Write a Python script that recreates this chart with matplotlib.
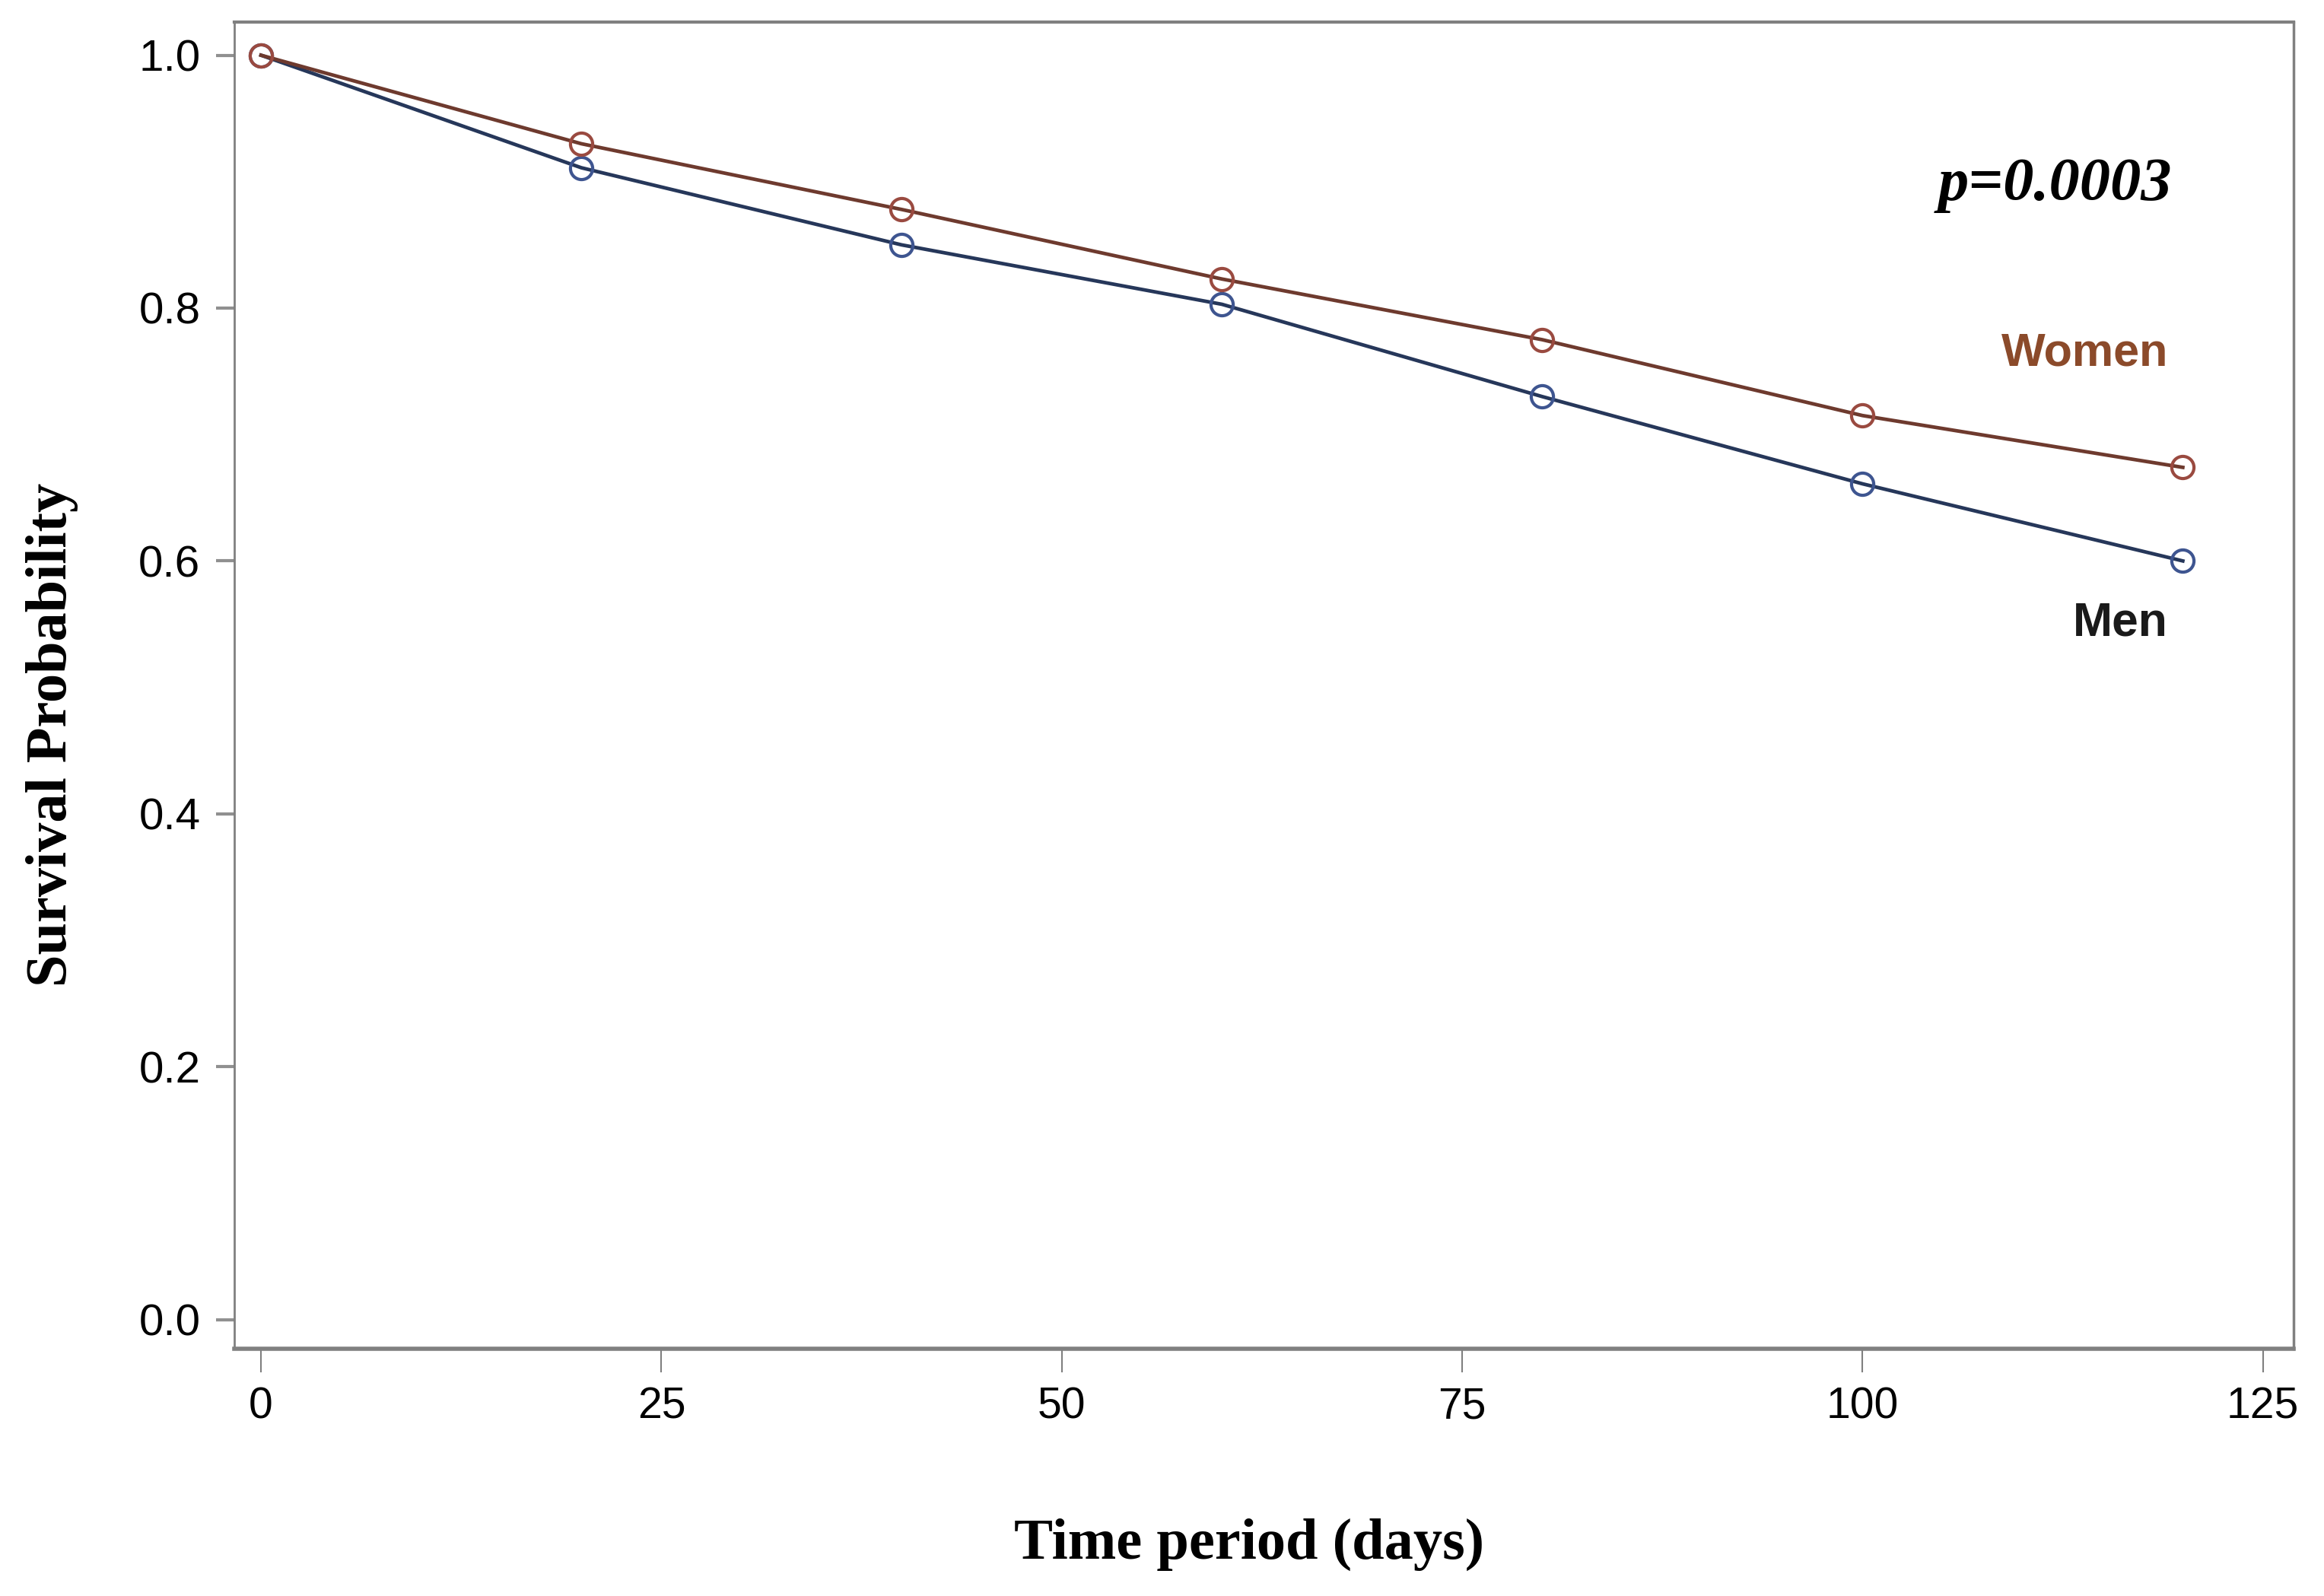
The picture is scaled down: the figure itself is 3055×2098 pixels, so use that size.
import matplotlib
matplotlib.use("Agg")
import matplotlib.pyplot as plt

time_days = [0, 20, 40, 60, 80, 100, 120]
women_surv = [1.0, 0.930, 0.878, 0.823, 0.775, 0.715, 0.674]
men_surv = [1.0, 0.911, 0.850, 0.803, 0.730, 0.661, 0.600]
x_ticks = [0, 25, 50, 75, 100, 125]
y_ticks = [0.0, 0.2, 0.4, 0.6, 0.8, 1.0]

women_line = "#6E3A2E"
women_mark = "#9A4A40"
men_line = "#26375A"
men_mark = "#3E5590"

fig = plt.figure(figsize=(30.55, 20.98), dpi=100)
ax = fig.add_axes([0.1008, 0.155, 0.886, 0.831])

ax.plot(time_days, men_surv, color=men_line, lw=3.4, zorder=3)
ax.plot(time_days, men_surv, ls="none", marker="o", ms=21,
        mfc="none", mec=men_mark, mew=3, zorder=3)
ax.plot(time_days, women_surv, color=women_line, lw=3.4, zorder=4)
ax.plot(time_days, women_surv, ls="none", marker="o", ms=21,
        mfc="none", mec=women_mark, mew=3, zorder=4)

ax.set_xlim(-1.67, 126.9)
ax.set_ylim(-0.023, 1.026)
ax.set_xticks(x_ticks)
ax.set_yticks(y_ticks)
ax.set_xticklabels([str(t) for t in x_ticks])
ax.set_yticklabels([f"{t:.1f}" for t in y_ticks])

for lab in ax.get_xticklabels():
    lab.set_fontfamily("Liberation Sans")
    lab.set_fontsize(41)
for lab in ax.get_yticklabels():
    lab.set_fontfamily("Liberation Sans")
    lab.set_fontsize(42)

ax.tick_params(axis="x", direction="out", length=22, width=1.5, color="#808080", pad=14)
ax.tick_params(axis="y", direction="out", length=17, width=3, color="#909090", pad=15)

for side in ["left", "right", "top", "bottom"]:
    ax.spines[side].set_color("#808080")
ax.spines["left"].set_linewidth(2)
ax.spines["right"].set_linewidth(2.5)
ax.spines["top"].set_linewidth(3)
ax.spines["bottom"].set_linewidth(4)

ax.set_xlabel("Time period (days)", fontfamily="Liberation Serif", fontweight="bold",
              fontsize=55)
ax.xaxis.set_label_coords(0.4928, -0.128)
ax.set_ylabel("Survival Probability", fontfamily="Liberation Serif", fontweight="bold",
              fontsize=55)
ax.yaxis.set_label_coords(-0.0756, 0.463)

ax.text(112.0, 0.897, "p=0.0003", fontfamily="Liberation Serif", fontweight="bold",
        fontstyle="italic", fontsize=58, ha="center", va="center")
ax.text(113.9, 0.764, "Women", fontfamily="Liberation Sans", fontweight="bold",
        fontsize=44, color="#8B4A2A", ha="center", va="center")
ax.text(116.1, 0.551, "Men", fontfamily="Liberation Sans", fontweight="bold",
        fontsize=45, color="#1a1a1a", ha="center", va="center")

fig.savefig("out.png", dpi=100, facecolor="white")
